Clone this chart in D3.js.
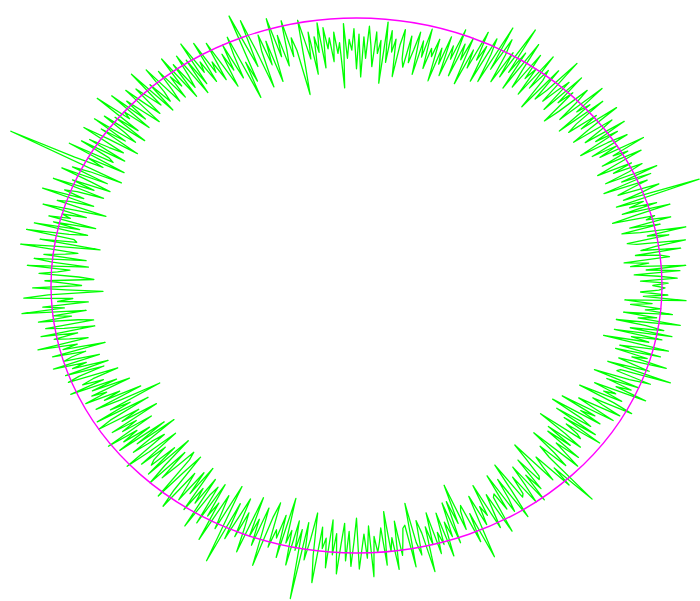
<!DOCTYPE html>
<meta charset="utf-8">
<style>
body { margin: 0; background: #fff; }
</style>
<svg id="ring" width="700" height="601"></svg>
<script src="https://d3js.org/d3.v7.min.js"></script>
<script>

// radius readings every half degree, counter-clockwise from the right (1 = on the ellipse)
var radii = [
  0.97,1.02,0.93,1.05,0.99,0.91,1.06,0.95,1.08,0.90,
  0.96,0.88,1.03,1.00,0.92,1.07,0.94,0.99,1.09,0.93,
  0.90,1.04,0.97,1.10,0.95,0.89,1.02,0.92,1.06,0.98,
  1.01,0.87,0.95,1.07,0.91,1.03,0.94,0.99,0.90,1.19,
  0.93,1.00,1.06,0.92,0.97,1.03,0.88,1.05,0.95,1.08,
  0.90,0.99,1.04,0.94,1.01,0.89,0.96,1.06,0.92,1.02,
  0.97,1.09,0.93,1.00,0.91,1.05,0.98,0.88,1.03,0.95,
  1.07,0.92,0.99,1.04,0.89,0.96,1.08,0.94,1.01,0.90,
  0.94,1.06,0.88,1.02,0.97,1.09,0.91,0.99,1.05,0.93,
  0.87,1.01,0.95,1.07,0.90,1.03,0.98,0.92,1.10,0.96,
  0.91,1.04,0.86,0.98,1.02,0.93,1.07,0.89,1.00,0.95,
  1.05,0.90,0.97,1.08,0.88,1.03,0.94,1.12,0.91,1.01,
  0.88,0.99,1.05,0.92,1.09,0.86,0.97,1.03,0.85,0.99,
  0.93,1.04,0.89,0.96,0.82,1.00,0.91,0.97,0.84,1.02,
  0.90,0.95,0.83,0.98,0.87,0.93,0.80,0.96,0.89,0.92,
  0.84,0.99,0.88,0.94,0.81,0.97,0.90,0.85,0.95,0.83,
  0.86,0.97,0.91,0.79,0.93,0.88,0.96,0.84,0.99,0.76,
  0.92,0.87,0.95,0.82,0.90,0.97,0.85,0.93,0.78,0.94,
  0.81,0.96,0.88,0.92,0.85,0.98,0.74,0.91,0.87,0.95,
  0.84,0.93,0.89,0.97,0.82,0.99,0.88,0.94,0.80,0.96,
  0.86,0.93,1.01,0.84,0.73,0.90,0.95,0.88,1.02,0.91,
  0.85,0.97,0.89,1.04,0.92,0.80,0.96,0.87,0.99,0.93,
  0.79,0.94,1.06,0.88,0.97,1.09,0.83,0.91,0.77,1.02,
  0.95,0.86,1.00,0.90,0.97,0.84,0.93,1.03,0.88,0.96,
  0.92,1.05,0.89,0.98,0.94,1.07,0.90,1.01,0.87,1.04,
  0.96,0.91,1.02,0.88,1.06,0.94,0.99,0.90,1.03,0.95,
  0.90,1.06,0.96,0.92,1.01,0.89,1.08,0.93,0.98,1.03,
  0.91,0.97,1.05,0.89,0.95,1.02,0.93,1.07,0.90,1.00,
  0.97,1.10,0.92,1.01,0.88,1.04,0.95,0.90,1.06,0.93,
  1.02,0.87,0.98,1.07,0.91,0.96,1.03,0.89,1.05,0.94,
  0.92,1.08,0.87,1.00,0.94,1.04,1.27,0.86,0.97,1.03,
  0.90,1.06,0.95,0.88,1.01,0.93,1.07,0.89,0.98,1.02,
  0.95,1.09,0.91,0.99,1.03,0.86,0.96,1.07,0.92,1.00,
  0.97,1.04,0.88,1.02,0.93,1.08,0.90,0.96,1.10,0.94,
  0.93,1.05,0.85,0.99,1.11,0.92,0.96,1.03,0.89,1.06,
  1.00,0.88,1.08,0.94,0.98,1.04,0.91,0.86,1.02,0.95,
  0.90,1.06,0.95,0.83,1.01,1.09,0.93,0.98,0.88,1.03,
  0.96,1.10,0.89,1.00,0.94,1.05,0.92,0.87,1.03,0.97,
  0.87,1.05,0.93,1.01,0.96,0.90,1.07,0.94,0.99,0.85,
  1.03,0.92,0.97,1.00,0.88,1.04,0.93,0.98,0.86,1.01,
  0.88,0.97,1.01,0.84,0.93,0.97,0.90,1.02,0.86,0.95,
  0.82,0.96,0.91,0.99,0.87,0.93,0.80,0.97,0.88,0.74,
  0.93,0.86,0.99,0.80,0.95,1.00,0.85,0.92,0.79,0.97,
  0.88,0.94,0.83,1.01,0.90,0.96,0.86,0.99,0.81,0.93,
  0.78,0.96,0.89,0.84,1.01,0.92,0.81,0.97,0.87,0.93,
  0.95,0.85,0.98,0.80,0.92,1.00,0.84,0.96,0.89,0.82,
  0.85,1.02,0.90,0.82,0.97,1.04,0.88,0.93,0.99,0.86,
  0.95,0.83,1.01,0.91,0.97,0.86,1.06,0.92,0.88,1.03,
  0.86,0.99,0.93,1.08,0.89,0.95,1.02,0.84,0.97,1.14,
  0.90,1.04,0.95,0.87,1.02,0.92,0.98,1.07,0.85,1.00,
  0.93,1.03,0.88,0.97,1.10,0.91,0.85,1.02,0.95,0.98,
  0.89,1.05,0.82,0.99,0.94,1.07,0.90,1.01,0.93,1.19,
  0.90,1.04,0.96,0.86,1.02,1.12,0.91,0.99,0.95,1.06,
  0.88,1.01,0.93,1.08,0.97,0.89,1.03,0.92,1.05,0.96,
  0.87,1.06,0.99,0.93,1.02,0.90,1.09,0.94,1.00,0.96,
  0.91,1.05,0.85,1.00,0.95,1.07,0.89,1.02,0.97,0.92,
  0.91,1.07,0.83,0.98,1.03,0.90,0.95,1.10,0.93,1.00,
  0.88,1.04,0.96,1.01,0.89,1.06,0.93,0.99,0.86,1.02,
  0.86,0.95,0.80,0.98,0.91,0.89,1.04,0.93,1.11,0.97,
  0.87,0.99,0.92,0.96,0.84,1.02,0.95,0.89,1.05,0.91,
  0.90,0.97,0.83,0.99,0.94,0.86,1.03,0.92,0.81,0.96,
  0.95,0.88,1.00,0.93,0.85,1.01,0.90,0.97,0.84,0.94,
  0.93,0.86,0.79,0.97,0.91,0.87,1.02,0.94,1.11,0.90,
  0.85,0.96,0.90,0.80,0.99,0.93,0.88,0.97,0.83,0.92,
  0.82,0.95,0.88,0.77,0.93,0.91,0.86,0.99,0.84,0.96,
  0.80,0.93,0.89,0.77,0.95,0.87,0.92,0.79,0.98,0.90,
  0.84,0.99,0.92,0.88,1.02,0.95,0.82,0.97,0.90,0.94,
  0.86,1.04,0.93,0.98,0.89,1.00,0.84,0.96,1.03,0.91,
  0.92,1.09,0.87,1.01,0.95,0.90,1.06,0.94,0.99,0.88,
  1.03,0.89,0.96,1.05,0.83,0.98,0.92,1.02,0.86,1.05,
  0.91,1.02,0.96,0.86,1.07,0.93,0.99,0.88,1.04,0.95,
  1.00,0.90,0.97,0.88,1.08,0.94,1.02,0.93,0.99,1.01
];
var step = 360 / radii.length;
var angles = radii.map(function(r, i) { return i * step; });

var svg = d3.select("#ring");
var x = d3.scaleLinear().domain([-1, 1]).range([51, 662]);
var y = d3.scaleLinear().domain([-1, 1]).range([553, 18]);

var pts = angles.map(function(a, i) {
  var t = a * Math.PI / 180;
  return [radii[i] * Math.cos(t), radii[i] * Math.sin(t)];
});

var line = d3.line()
  .x(function(d) { return x(d[0]); })
  .y(function(d) { return y(d[1]); })
  .curve(d3.curveLinearClosed);

svg.append("path")
  .datum(pts)
  .attr("d", line)
  .attr("fill", "none")
  .attr("stroke", "#00ff00")
  .attr("stroke-width", 1.3)
  .attr("stroke-linejoin", "round");

// reference ellipse at radius 1
svg.append("ellipse")
  .attr("cx", x(0))
  .attr("cy", y(0))
  .attr("rx", x(1) - x(0))
  .attr("ry", y(-1) - y(0))
  .attr("fill", "none")
  .attr("stroke", "#ff00ff")
  .attr("stroke-width", 1.4);

</script>
